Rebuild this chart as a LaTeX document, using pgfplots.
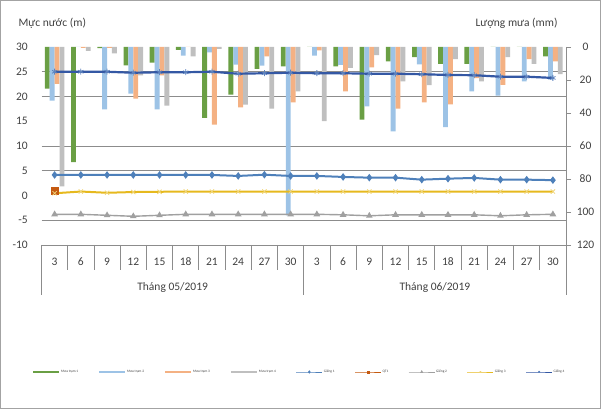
\documentclass[border=0pt]{standalone}
\usepackage{fontspec}
\setmainfont{Carlito}
\usepackage{pgfplots}
\pgfplotsset{compat=1.18}
\usepackage{pgfplotstable}

\definecolor{cgreen}{HTML}{6A9F44}
\definecolor{cblue}{HTML}{9DC3E6}
\definecolor{csalmon}{HTML}{F4B183}
\definecolor{cgray}{HTML}{BFBFBF}
\definecolor{lblue}{HTML}{4E80BA}
\definecolor{lorange}{HTML}{C55A11}
\definecolor{lgray}{HTML}{A0A0A0}
\definecolor{lyellow}{HTML}{E6B91E}
\definecolor{ldblue}{HTML}{3458A4}
\definecolor{gridc}{HTML}{8C8C8C}
\definecolor{txt}{HTML}{404040}

% rain (mm), four stations, category index 0..19
\pgfplotstableread{
i g b s k
0 25.3 32.5 22.4 84.4
1 69.7 0 0.6 2.4
2 0.7 37.8 0.6 3.8
3 11.1 28.2 31.3 17.2
4 9.4 37.8 17.2 35.6
5 1.8 5.2 0 5.7
6 43 3.3 47.1 1.2
7 28.9 10.7 36.6 35
8 13.3 11.3 5.7 37.4
9 11.7 102 33.6 26.9
10 0 5.3 2 45
11 11.7 10.9 26.9 12.7
12 44 36 12.3 5
13 8.7 51.1 37.4 20.8
14 6.2 10.6 33.5 23.1
15 10.3 48.6 34.7 7.3
16 10.3 26.9 18.8 20.8
17 0 29.4 23 6.1
18 0 20.8 7.3 10.3
19 5.7 19.8 8.7 16.4
}\rain

% water levels (m)
\pgfplotstableread{
i lb ly lg ld
0 4.15 0.45 -3.8 25.0
1 4.15 0.8 -3.8 25.0
2 4.15 0.55 -4.0 25.0
3 4.15 0.7 -4.2 24.8
4 4.15 0.75 -4.0 24.9
5 4.15 0.8 -3.8 24.9
6 4.15 0.8 -3.8 25.0
7 3.95 0.8 -3.8 24.6
8 4.2 0.8 -3.8 24.7
9 3.95 0.8 -3.8 24.8
10 3.95 0.8 -3.8 24.7
11 3.75 0.8 -3.9 24.7
12 3.6 0.8 -4.1 24.6
13 3.6 0.8 -3.9 24.6
14 3.2 0.8 -3.9 24.5
15 3.4 0.8 -3.9 24.35
16 3.55 0.8 -3.9 24.3
17 3.2 0.8 -4.1 24.0
18 3.2 0.8 -3.9 24.0
19 3.1 0.8 -3.8 23.75
}\level

\begin{document}
\begin{tikzpicture}
\useasboundingbox (0pt,0pt) rectangle (601pt,409pt);
\draw[gridc!80, line width=0.8pt] (0.5pt,0.5pt) rectangle (600.5pt,408.5pt);

% rainfall bars, right axis reversed
\begin{axis}[
    at={(41.5pt,164pt)}, anchor=south west,
    scale only axis, width=524.5pt, height=198pt,
    xmin=-0.5, xmax=19.5, ymin=0, ymax=120, y dir=reverse,
    axis x line=none, axis y line*=right,
    y axis line style={draw=gridc, line width=0.8pt, -},
    ytick={0,20,...,120}, tick align=outside, major tick length=5pt,
    ytick style={draw=gridc, line width=0.8pt},
    yticklabel style={anchor=center, xshift=14.5pt},
    tick label style={font=\fontsize{11.5}{13}\selectfont, text=txt},
    /pgf/number format/assume math mode=true,
    extra y ticks={15,30,60,75,105}, extra y tick labels={},
    extra y tick style={grid=major, major tick length=0pt},
    grid style={draw=gridc, line width=0.8pt},
    ybar=0pt, bar width=0.185,
]
\addplot[fill=cgreen, draw=none, bar shift=-0.28] table[x=i,y=g]{\rain};
\addplot[fill=cblue, draw=none, bar shift=-0.093] table[x=i,y=b]{\rain};
\addplot[fill=csalmon, draw=none, bar shift=0.093] table[x=i,y=s]{\rain};
\addplot[fill=cgray, draw=none, bar shift=0.28] table[x=i,y=k]{\rain};
\end{axis}

% water level lines, left axis
\begin{axis}[
    at={(41.5pt,164pt)}, anchor=south west,
    scale only axis, width=524.5pt, height=198pt,
    xmin=-0.5, xmax=19.5, ymin=-10, ymax=30,
    axis x line*=bottom, axis y line*=left,
    y axis line style={draw=none},
    x axis line style={draw=gridc, line width=0.8pt, -},
    ytick={-10,-5,...,30}, ytick style={draw=none},
    xtick={0,...,19},
    xticklabels={3,6,9,12,15,18,21,24,27,30,3,6,9,12,15,18,21,24,27,30},
    xtick style={draw=none},
    xticklabel style={anchor=center, yshift=-17pt},
    yticklabel style={anchor=east, inner sep=0pt, xshift=-13.5pt},
    tick label style={font=\fontsize{11.5}{13}\selectfont, text=txt},
    /pgf/number format/assume math mode=true,
    clip=false,
    legend columns=9,
    legend style={at={(-0.0181,-0.6414)}, anchor=west, draw=none, fill=none,
        inner sep=0pt, font=\fontsize{3.5}{4}\selectfont, text=txt, nodes={inner sep=1pt},
        /tikz/every even column/.append style={column sep=19pt}},
    legend image code/.code={\draw[mark repeat=2,mark phase=2,#1,line width=0.9pt,mark size=1pt]
        plot coordinates {(0pt,0pt) (13pt,0pt) (26pt,0pt)};},
]
\addlegendimage{legend image code/.code={\draw[cgreen, line width=2pt] (0pt,0pt) -- (26pt,0pt);}}
\addlegendentry{Mưa trạm 1}
\addlegendimage{legend image code/.code={\draw[cblue, line width=2pt] (0pt,0pt) -- (26pt,0pt);}}
\addlegendentry{Mưa trạm 2}
\addlegendimage{legend image code/.code={\draw[csalmon, line width=2pt] (0pt,0pt) -- (26pt,0pt);}}
\addlegendentry{Mưa trạm 3}
\addlegendimage{legend image code/.code={\draw[cgray, line width=2pt] (0pt,0pt) -- (26pt,0pt);}}
\addlegendentry{Mưa trạm 4}

\addplot[lblue, line width=2pt, mark=diamond*, mark size=2.2pt] table[x=i,y=lb]{\level};
\addlegendentry{Giếng 1}
\addplot[lorange, line width=2pt, mark=square*, mark size=3pt] coordinates {(0,1.0)};
\addlegendentry{QT1}
\addplot[lgray, line width=1.4pt, mark=triangle*, mark size=2.5pt] table[x=i,y=lg]{\level};
\addlegendentry{Giếng 2}
\addplot[lyellow, line width=2pt, mark=x, mark size=3pt, mark options={lyellow!60!white, line width=0.8pt}] table[x=i,y=ly]{\level};
\addlegendentry{Giếng 3}
\addplot[ldblue, line width=2.2pt, mark=asterisk, mark size=3pt, mark options={ldblue!60!cblue, line width=0.8pt}] table[x=i,y=ld]{\level};
\addlegendentry{Giếng 4}

% category separators below the axis
\pgfplotsinvokeforeach{0.5,1.5,2.5,3.5,4.5,5.5,6.5,7.5,8.5,10.5,11.5,12.5,13.5,14.5,15.5,16.5,17.5,18.5}{
  \draw[gridc, line width=0.8pt] (axis cs:#1,-10) -- ++(0pt,-25pt);
}
\draw[gridc, line width=0.8pt] (axis cs:-0.5,-10) -- ++(0pt,-50pt);
\draw[gridc, line width=0.8pt] (axis cs:9.5,-10) -- ++(0pt,-50pt);
\draw[gridc, line width=0.8pt] (axis cs:19.5,-10) -- ++(0pt,-50pt);
\node[font=\fontsize{11.5}{13}\selectfont, text=txt] at ([yshift=-42pt]axis cs:4.5,-10) {Tháng 05/2019};
\node[font=\fontsize{11.5}{13}\selectfont, text=txt] at ([yshift=-42pt]axis cs:14.5,-10) {Tháng 06/2019};
\end{axis}

\node[anchor=base west, font=\fontsize{11.5}{13}\selectfont, text=txt] at (15pt,382pt) {Mực nước (m)};
\node[anchor=base west, font=\fontsize{11.5}{13}\selectfont, text=txt] at (472pt,382pt) {Lượng mưa (mm)};
\end{tikzpicture}
\end{document}
